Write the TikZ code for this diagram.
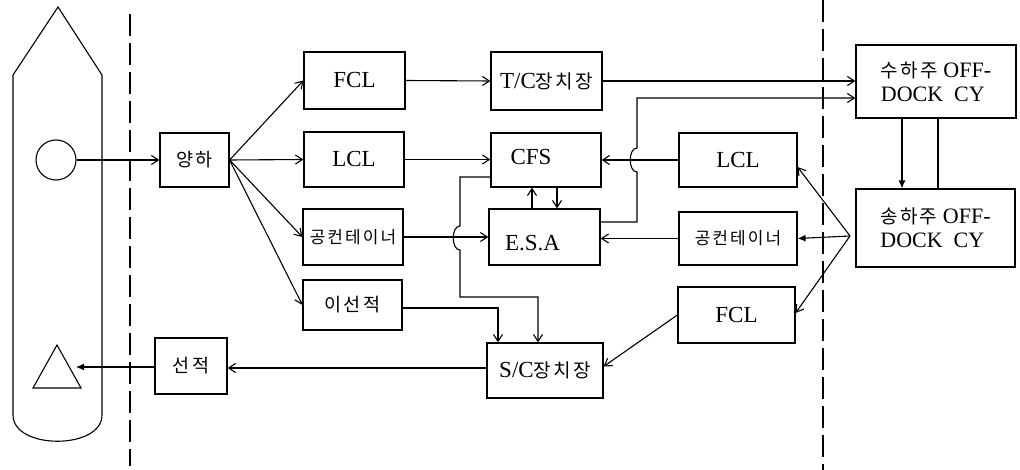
\documentclass[tikz,border=0pt]{standalone}
\usepackage{fontspec}
\setmainfont{Liberation Serif}
\newfontfamily\krfont[LetterSpace=12]{Noto Sans CJK KR}
\usetikzlibrary{arrows.meta}
\newcommand\latf{\fontsize{23}{25}\selectfont}
\newcommand\korf{\fontsize{18.5}{20}\selectfont\krfont}
\begin{document}
\begin{tikzpicture}[x=1pt,y=-1pt,line width=1.1pt,
  box/.style={draw, line width=1.2pt, inner sep=0pt, font=\latf},
  ar/.style={-{Straight Barb[length=7pt,width=9pt]}},
  far/.style={-{Latex[length=8pt,width=7pt]}},
  sep/.style={line width=1.1pt, dash pattern=on 22pt off 7pt}]
\useasboundingbox (0,0) rectangle (1020,470);
% ship
\draw (13,415) -- (13,75) -- (58,7) -- (102,75) -- (102,415)
  .. controls (102,450) and (13,450) .. (13,415) -- cycle;
\node[circle, draw, minimum size=40pt, inner sep=0pt] (circ) at (56,160) {};
\draw (57,345) -- (81,388) -- (33,388) -- cycle;
\coordinate (tri) at (76,367);
% separators
\draw[sep] (130,14) -- (130,466);
\draw[sep] (823,0) -- (823,470);
% boxes
\node[box, minimum width=69pt, minimum height=54pt] (yangha) at (194.5,160) {\korf 양하};
\node[box, minimum width=72pt, minimum height=56pt] (seonjeok) at (191,366) {\korf 선적};
\node[box, minimum width=101pt, minimum height=57pt] (fcl1) at (354.5,80.5) {FCL};
\node[box, minimum width=100pt, minimum height=55pt] (lcl1) at (354,159.5) {LCL};
\node[box, minimum width=100pt, minimum height=56pt] (gong1) at (353,237) {{\fontsize{17}{20}\selectfont\krfont 공컨테이너}};
\node[box, minimum width=99pt, minimum height=50pt] (iseon) at (352.5,305) {\korf 이선적};
\node[box, minimum width=111pt, minimum height=58pt] (tc) at (546.5,81) {T/C{\fontsize{19}{20}\selectfont\krfont 장치장}};
\node[box, minimum width=110pt, minimum height=54pt,
  label={[font=\latf, xshift=-15pt, yshift=3pt]center:CFS}] (cfs) at (546,160) {};
\node[box, minimum width=111pt, minimum height=56pt,
  label={[font=\latf, xshift=-12pt, yshift=-6pt]center:E.S.A}] (esa) at (544.5,237) {};
\node[box, minimum width=116pt, minimum height=55pt] (sc) at (545,370.5) {S/C{\fontsize{19}{20}\selectfont\krfont 장치장}};
\node[box, minimum width=118pt, minimum height=54pt] (lcl2) at (738,160) {LCL};
\node[box, minimum width=118pt, minimum height=53pt] (gong2) at (738,238.5) {{\fontsize{17}{20}\selectfont\krfont 공컨테이너}};
\node[box, minimum width=117pt, minimum height=56pt] (fcl2) at (736.5,315) {FCL};
\node[box, minimum width=160pt, minimum height=73pt, align=left, font=\fontsize{22}{24}\selectfont] (suha) at (936,81.5) {{\fontsize{19}{20}\selectfont\krfont 수하주} OFF-\\DOCK\ \ CY};
\node[box, minimum width=159pt, minimum height=78pt, align=left, font=\fontsize{22}{24}\selectfont] (songha) at (935.5,228) {{\fontsize{19}{20}\selectfont\krfont 송하주} OFF-\\DOCK\ \ CY};
% connectors
\draw[ar] (circ.east) -- (yangha.west);
\draw[ar] (yangha.east) -- (fcl1.west);
\draw[ar] (yangha.east) -- (lcl1.west);
\draw[ar] (yangha.east) -- (gong1.west);
\draw[ar] (yangha.east) -- (iseon.west);
\draw[ar] (fcl1.east) -- (tc.west);
\draw[ar] (lcl1.east) -- (cfs.west |- lcl1.east);
\draw[ar] (gong1.east) -- (esa.west |- gong1.east);
\draw[ar] (tc.east) -- (tc.east -| suha.west);
\draw[ar] (esa.east |- 0,222) -- (637,222) -- (637,172)
  .. controls (628,172) and (628,148) .. (637,148) -- (637,98) -- (suha.west |- 0,98);
\draw[ar] (lcl2.west) -- (cfs.east);
\draw[ar] (gong2.west) -- (esa.east |- gong2.west);
\coordinate (src) at (850,236);
\draw[far] (src) -- (gong2.east);
\draw[ar] (src) -- ([yshift=-7pt]lcl2.east);
\draw[ar] (src) -- ([yshift=2pt]fcl2.east);
\draw[far] (suha.south -| 902,0) -- (songha.north -| 902,0);
\draw (suha.south -| 938,0) -- (songha.north -| 938,0);
\draw[ar] (fcl2.west) -- ([yshift=4pt]sc.east);
\draw[ar] (sc.west |- 0,368) -- (seonjeok.east |- 0,368);
\draw[far] (seonjeok.west |- 0,367) -- (tri);
\draw[ar] (iseon.east |- 0,308) -- (498,308) -- (sc.north -| 498,0);
\draw[ar] (cfs.west |- 0,177) -- (460,177) -- (460,226)
  .. controls (451,226) and (451,250) .. (460,250) -- (460,297) -- (538,297) -- (sc.north -| 538,0);
\draw[ar] (esa.north -| 532,0) -- (cfs.south -| 532,0);
\draw[ar] (cfs.south -| 557,0) -- (esa.north -| 557,0);
\end{tikzpicture}
\end{document}
